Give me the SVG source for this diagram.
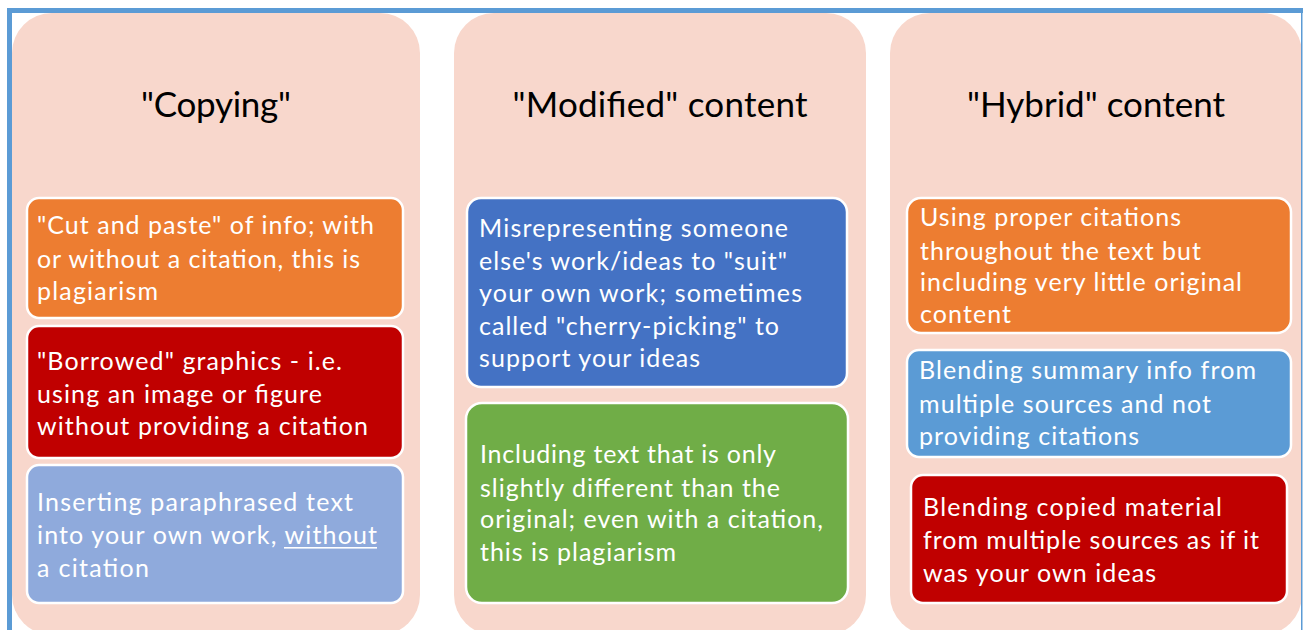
<svg xmlns="http://www.w3.org/2000/svg" width="1304" height="630" viewBox="0 0 1304 630">
<style>
.col{fill:#F8D7CC}
.box{stroke:#FFFFFF;stroke-width:2.5}
.t{font-family:Lato,"Open Sans","Liberation Sans",sans-serif;font-size:25px;fill:#FFFFFF}
.h{font-family:Lato,"Open Sans","Liberation Sans",sans-serif;font-size:35px;fill:#000000;text-anchor:middle}
.frame{fill:#5B9BD5}
</style>
<rect width="1304" height="630" fill="#FFFFFF"/>
<g id="col-copying">
<rect class="col" x="12" y="13" width="408" height="622" rx="40"/>
<text class="h" x="216" y="117" textLength="150">"Copying"</text>
</g>
<g id="col-modified">
<rect class="col" x="454" y="13" width="412" height="622" rx="40"/>
<text class="h" x="660" y="117" textLength="295">"Modified" content</text>
</g>
<g id="col-hybrid">
<rect class="col" x="890" y="13" width="412" height="622" rx="40"/>
<text class="h" x="1096" y="117" textLength="258">"Hybrid" content</text>
</g>
<g id="box-cut-paste">
<rect class="box" x="27" y="198" width="376" height="120" rx="12" fill="#ED7D31"/>
<text class="t"><tspan x="37" y="234" textLength="337">"Cut and paste" of info; with</tspan><tspan x="37" y="268" textLength="323">or without a citation, this is</tspan><tspan x="37" y="300" textLength="121">plagiarism</tspan></text>
</g>
<g id="box-borrowed">
<rect class="box" x="27" y="326" width="376" height="132" rx="12" fill="#C00000"/>
<text class="t"><tspan x="37" y="370" textLength="305">"Borrowed" graphics - i.e.</tspan><tspan x="37" y="403" textLength="285">using an image or figure</tspan><tspan x="37" y="435" textLength="331">without providing a citation</tspan></text>
</g>
<g id="box-paraphrased">
<rect class="box" x="27" y="465" width="376" height="138" rx="12" fill="#8FAADC"/>
<text class="t"><tspan x="37" y="511" textLength="316">Inserting paraphrased text</tspan><tspan x="37" y="544" textLength="340">into your own work, without</tspan><tspan x="37" y="577" textLength="112">a citation</tspan></text>
<rect x="284" y="547" width="93" height="1.6" fill="#FFFFFF"/>
</g>
<g id="box-misrepresenting">
<rect class="box" x="467" y="198" width="380" height="189" rx="14" fill="#4472C4"/>
<text class="t"><tspan x="479" y="237" textLength="309">Misrepresenting someone</tspan><tspan x="479" y="270" textLength="308">else's work/ideas to "suit"</tspan><tspan x="479" y="302" textLength="323">your own work; sometimes</tspan><tspan x="479" y="335" textLength="300">called "cherry-picking" to</tspan><tspan x="479" y="367" textLength="221">support your ideas</tspan></text>
</g>
<g id="box-including-text">
<rect class="box" x="466" y="403" width="382" height="200" rx="16" fill="#70AD47"/>
<text class="t"><tspan x="480" y="463" textLength="296">Including text that is only</tspan><tspan x="480" y="497" textLength="300">slightly different than the</tspan><tspan x="480" y="528" textLength="343">original; even with a citation,</tspan><tspan x="480" y="561" textLength="196">this is plagiarism</tspan></text>
</g>
<g id="box-proper-citations">
<rect class="box" x="907" y="198" width="384" height="135" rx="14" fill="#ED7D31"/>
<text class="t"><tspan x="920" y="226" textLength="261">Using proper citations</tspan><tspan x="920" y="260" textLength="281">throughout the text but</tspan><tspan x="920" y="291" textLength="322">including very little original</tspan><tspan x="920" y="323" textLength="91">content</tspan></text>
</g>
<g id="box-blending-summary">
<rect class="box" x="907" y="350" width="384" height="107" rx="12" fill="#5B9BD5"/>
<text class="t"><tspan x="919" y="379" textLength="337">Blending summary info from</tspan><tspan x="919" y="413" textLength="292">multiple sources and not</tspan><tspan x="919" y="445" textLength="220">providing citations</tspan></text>
</g>
<g id="box-blending-copied">
<rect class="box" x="911" y="475" width="376" height="128" rx="12" fill="#C00000"/>
<text class="t"><tspan x="923" y="516" textLength="299">Blending copied material</tspan><tspan x="923" y="549" textLength="336">from multiple sources as if it</tspan><tspan x="923" y="582" textLength="233">was your own ideas</tspan></text>
</g>
<g id="connectors"></g>
<g id="frame">
<rect class="frame" x="7" y="8" width="1296" height="5"/>
<rect class="frame" x="7" y="8" width="5" height="622"/>
<rect class="frame" x="1301" y="8" width="1.5" height="622"/>
</g>
</svg>
